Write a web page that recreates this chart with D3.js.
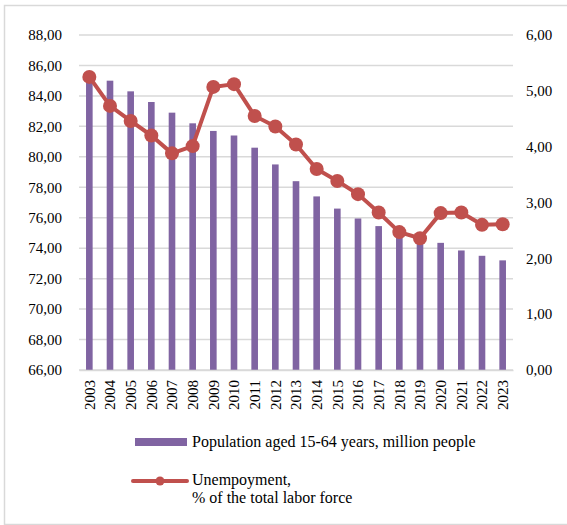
<!DOCTYPE html>
<html>
<head>
<meta charset="utf-8">
<script src="https://cdn.jsdelivr.net/npm/d3@7"></script>
<style>
  html, body { margin: 0; padding: 0; background: #fff; }
  svg { display: block; }
  svg text { font-family: "Liberation Serif", "Times New Roman", Tinos, Times, "DejaVu Serif", serif !important; fill: #000; }
</style>
</head>
<body>
<svg id="chart" width="567" height="525"></svg>
<script>
// Years on the category axis
const years = [2003, 2004, 2005, 2006, 2007, 2008, 2009, 2010, 2011, 2012, 2013,
               2014, 2015, 2016, 2017, 2018, 2019, 2020, 2021, 2022, 2023];
// Population aged 15-64, million people (left axis)
const population = [85.3, 85.0, 84.3, 83.6, 82.9, 82.2, 81.7, 81.4, 80.6, 79.5, 78.4,
                    77.4, 76.6, 75.95, 75.45, 74.95, 74.6, 74.35, 73.85, 73.5, 73.2];
// Unemployment, % of total labor force (right axis)
const unemployment = [5.25, 4.73, 4.46, 4.20, 3.88, 4.01, 5.07, 5.12, 4.55, 4.36, 4.04,
                      3.60, 3.385, 3.15, 2.82, 2.47, 2.36, 2.81, 2.82, 2.60, 2.61];
// Axis ticks
const leftTicks = [66, 68, 70, 72, 74, 76, 78, 80, 82, 84, 86, 88];
const rightTicks = [0, 1, 2, 3, 4, 5, 6];
const legendLabels = ["Population aged 15-64 years, million people",
                      "Unempoyment,", "% of the total labor force"];

const barColor = "#8064A2";
const lineColor = "#C0504D";
const gridColor = "#D9D9D9";
const serif = '"Liberation Serif", "Times New Roman", Tinos, Times, "DejaVu Serif", serif';

const svg = d3.select("#chart");

// outer frame
svg.append("path")
  .attr("d", "M567,5.5 H4.5 V524.5 H567")
  .attr("fill", "none")
  .attr("stroke", gridColor)
  .attr("stroke-width", 1.5);

const plot = { left: 79, right: 513, top: 35, bottom: 370 };

const x = d3.scaleBand()
  .domain(years)
  .range([plot.left, plot.right])
  .paddingInner(0.68)
  .paddingOuter(0.34);

const yL = d3.scaleLinear().domain([66, 88]).range([plot.bottom, plot.top]);
const yR = d3.scaleLinear().domain([0, 6]).range([plot.bottom, plot.top]);

const fmt = d => d3.format(".2f")(d).replace(".", ",");

// gridlines
svg.append("g")
  .selectAll("line")
  .data(leftTicks)
  .join("line")
  .attr("x1", plot.left).attr("x2", plot.right)
  .attr("y1", d => yL(d)).attr("y2", d => yL(d))
  .attr("stroke", gridColor)
  .attr("stroke-width", 1.5);

function styleAxis(g) {
  g.attr("font-family", serif).attr("font-size", 15);
  g.selectAll("text").attr("fill", "#000");
}

// left axis
const leftAxis = svg.append("g")
  .attr("transform", `translate(${plot.left},0)`)
  .call(d3.axisLeft(yL).tickValues(leftTicks).tickFormat(fmt).tickSize(0).tickPadding(17))
  .call(styleAxis);
leftAxis.select(".domain").remove();

// right axis
const rightAxis = svg.append("g")
  .attr("transform", `translate(${plot.right},0)`)
  .call(d3.axisRight(yR).tickValues(rightTicks).tickFormat(fmt).tickSize(0).tickPadding(13))
  .call(styleAxis);
rightAxis.select(".domain").remove();

// bars
svg.append("g")
  .selectAll("rect")
  .data(years)
  .join("rect")
  .attr("x", (d) => x(d))
  .attr("width", x.bandwidth())
  .attr("y", (d, i) => yL(population[i]))
  .attr("height", (d, i) => yL(66) - yL(population[i]))
  .attr("fill", barColor);

// bottom axis
const bottomAxis = svg.append("g")
  .attr("transform", `translate(0,${plot.bottom})`)
  .call(d3.axisBottom(x).tickSize(0).tickPadding(0))
  .call(styleAxis);
bottomAxis.select(".domain")
  .attr("stroke", gridColor)
  .attr("stroke-width", 1.5);
bottomAxis.selectAll("text")
  .attr("transform", "rotate(-90)")
  .attr("text-anchor", "end")
  .attr("x", -10)
  .attr("y", 0)
  .attr("dy", "0.35em");

// unemployment line
const line = d3.line()
  .x((d, i) => x(years[i]) + x.bandwidth() / 2)
  .y(d => yR(d));

svg.append("path")
  .datum(unemployment)
  .attr("d", line)
  .attr("fill", "none")
  .attr("stroke", lineColor)
  .attr("stroke-width", 4)
  .attr("stroke-linejoin", "round");

svg.append("g")
  .selectAll("circle")
  .data(unemployment)
  .join("circle")
  .attr("cx", (d, i) => x(years[i]) + x.bandwidth() / 2)
  .attr("cy", d => yR(d))
  .attr("r", 7)
  .attr("fill", lineColor);

// legend
const lg = svg.append("g").attr("font-family", serif).attr("font-size", 16);
lg.append("rect")
  .attr("x", 135).attr("y", 438)
  .attr("width", 52).attr("height", 8)
  .attr("fill", barColor);
lg.append("text")
  .attr("x", 192).attr("y", 447)
  .text(legendLabels[0]);

lg.append("line")
  .attr("x1", 133).attr("x2", 187)
  .attr("y1", 481).attr("y2", 481)
  .attr("stroke", lineColor)
  .attr("stroke-width", 4)
  .attr("stroke-linecap", "round");
lg.append("circle")
  .attr("cx", 160).attr("cy", 481).attr("r", 4.5)
  .attr("fill", lineColor);
lg.append("text")
  .attr("x", 192).attr("y", 485)
  .text(legendLabels[1]);
lg.append("text")
  .attr("x", 192).attr("y", 503)
  .text(legendLabels[2]);
</script>
</body>
</html>
